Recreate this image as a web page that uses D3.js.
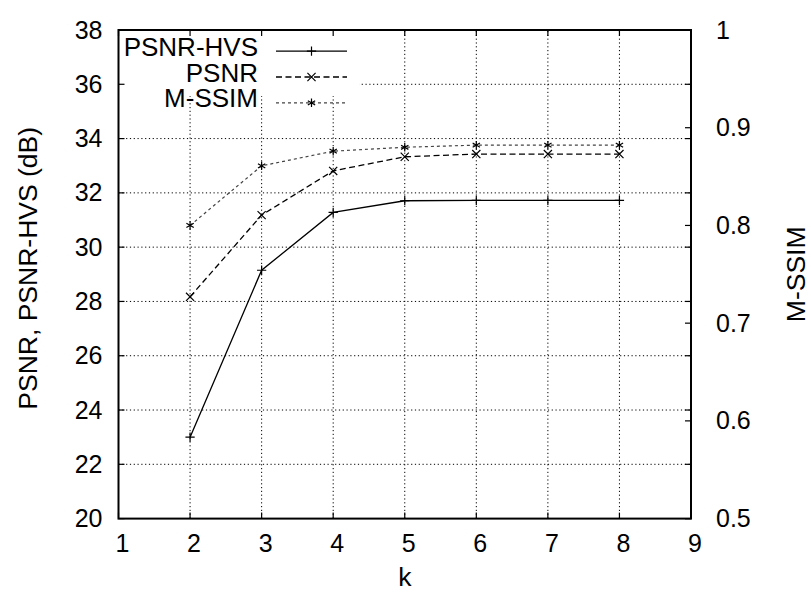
<!DOCTYPE html>
<html>
<head>
<meta charset="utf-8">
<script src="https://cdn.jsdelivr.net/npm/d3@7"></script>
<style>
  body { margin: 0; background: #fff; }
  svg { display: block; font-family: "Liberation Sans", Arial, sans-serif; }
  .tick-label { font-size: 25px; fill: #000; }
  .axis-title { font-size: 26.5px; fill: #000; }
  .key-label { font-size: 26px; fill: #000; }
</style>
</head>
<body>
<div id="chart"></div>
<script>
// k values and the three measured series
const kValues = [2, 3, 4, 5, 6, 7, 8];
const psnrHvs = [23.0, 29.15, 31.28, 31.71, 31.72, 31.72, 31.72];
const psnr = [28.17, 31.18, 32.81, 33.33, 33.43, 33.43, 33.43];
const mssim = [0.800, 0.861, 0.876, 0.880, 0.8822, 0.8822, 0.8822];

// tick labels
const xTicks = [1, 2, 3, 4, 5, 6, 7, 8, 9];
const yTicks = [20, 22, 24, 26, 28, 30, 32, 34, 36, 38];
const y2Ticks = [0.5, 0.6, 0.7, 0.8, 0.9, 1];

const series = [
  { name: "PSNR-HVS", values: psnrHvs, axis: "y", symbol: d3.symbolPlus, size: 30, dash: null, color: "#000", width: 1.3 },
  { name: "PSNR", values: psnr, axis: "y", symbol: d3.symbolTimes, size: 45, dash: "6,3.5", color: "#000", width: 1.3 },
  { name: "M-SSIM", values: mssim, axis: "y2", symbol: d3.symbolAsterisk, size: 50, dash: "3,3", color: "#444", width: 1.2 },
];

const width = 811;
const height = 592;
const margin = { top: 30, right: 120, bottom: 73.4, left: 118.5 };

const x = d3.scaleLinear().domain([1, 9]).range([margin.left, width - margin.right]);
const y = d3.scaleLinear().domain([20, 38]).range([height - margin.bottom, margin.top]);
const y2 = d3.scaleLinear().domain([0.5, 1]).range([height - margin.bottom, margin.top]);
const scaleFor = { y, y2 };

const svg = d3.select("#chart").append("svg")
  .attr("width", width)
  .attr("height", height)
  .attr("viewBox", [0, 0, width, height]);

const [x0, x1] = x.range();
const [yb, yt] = y.range();
const yMid = (yb + yt) / 2;

// grid (dotted), only interior ticks
const grid = svg.append("g")
  .attr("stroke", "#000")
  .attr("stroke-width", 1)
  .attr("stroke-dasharray", "1.2,2.6");

grid.selectAll("line.gx")
  .data(xTicks.slice(1, -1))
  .join("line")
  .attr("class", "gx")
  .attr("x1", (d) => x(d)).attr("x2", (d) => x(d))
  .attr("y1", yb).attr("y2", yt);

grid.selectAll("line.gy")
  .data(yTicks.slice(1, -1))
  .join("line")
  .attr("class", "gy")
  .attr("x1", x0).attr("x2", x1)
  .attr("y1", (d) => y(d)).attr("y2", (d) => y(d));

// the key is opaque and hides the grid behind it
svg.append("rect")
  .attr("x", x0 + 1)
  .attr("y", yt + 1)
  .attr("width", 240)
  .attr("height", 65)
  .attr("fill", "#fff");

// tick marks, pointing inward, mirrored
const ticks = svg.append("g").attr("stroke", "#000").attr("stroke-width", 1.2);
const tl = 6;

ticks.selectAll("line.xb")
  .data(xTicks)
  .join("line")
  .attr("x1", (d) => x(d)).attr("x2", (d) => x(d))
  .attr("y1", yb).attr("y2", yb - tl);

ticks.selectAll("line.xt")
  .data(xTicks)
  .join("line")
  .attr("x1", (d) => x(d)).attr("x2", (d) => x(d))
  .attr("y1", yt).attr("y2", yt + tl);

ticks.selectAll("line.yl")
  .data(yTicks)
  .join("line")
  .attr("x1", x0).attr("x2", x0 + tl)
  .attr("y1", (d) => y(d)).attr("y2", (d) => y(d));

ticks.selectAll("line.yr")
  .data(yTicks)
  .join("line")
  .attr("x1", x1).attr("x2", x1 - tl)
  .attr("y1", (d) => y(d)).attr("y2", (d) => y(d));

ticks.selectAll("line.y2")
  .data(y2Ticks)
  .join("line")
  .attr("x1", x1).attr("x2", x1 - tl)
  .attr("y1", (d) => y2(d)).attr("y2", (d) => y2(d));

// tick labels
svg.append("g").selectAll("text")
  .data(xTicks)
  .join("text")
  .attr("class", "tick-label")
  .attr("x", (d) => x(d) + 4)
  .attr("y", yb + 33)
  .attr("text-anchor", "middle")
  .text((d) => d);

svg.append("g").selectAll("text")
  .data(yTicks)
  .join("text")
  .attr("class", "tick-label")
  .attr("x", x0 - 16)
  .attr("y", (d) => y(d))
  .attr("dy", "0.34em")
  .attr("text-anchor", "end")
  .text((d) => d);

svg.append("g").selectAll("text")
  .data(y2Ticks)
  .join("text")
  .attr("class", "tick-label")
  .attr("x", x1 + 25)
  .attr("y", (d) => y2(d))
  .attr("dy", "0.34em")
  .attr("text-anchor", "start")
  .text((d) => d);

// axis titles
svg.append("text")
  .attr("class", "axis-title")
  .attr("x", (x0 + x1) / 2)
  .attr("y", height - 6)
  .attr("text-anchor", "middle")
  .text("k");

svg.append("text")
  .attr("class", "axis-title")
  .attr("transform", `translate(37, ${yMid - 6}) rotate(-90)`)
  .attr("text-anchor", "middle")
  .text("PSNR, PSNR-HVS (dB)");

svg.append("text")
  .attr("class", "axis-title")
  .attr("transform", `translate(805, ${yMid}) rotate(-90)`)
  .attr("text-anchor", "middle")
  .text("M-SSIM");

// series
series.forEach((s) => {
  const sy = scaleFor[s.axis];
  const pts = kValues.map((k, i) => [x(k), sy(s.values[i])]);

  svg.append("path")
    .datum(pts)
    .attr("fill", "none")
    .attr("stroke", s.color)
    .attr("stroke-width", s.width)
    .attr("stroke-dasharray", s.dash)
    .attr("d", d3.line());

  svg.append("g").selectAll("path")
    .data(pts)
    .join("path")
    .attr("transform", (d) => `translate(${d})`)
    .attr("fill", "none")
    .attr("stroke", "#000")
    .attr("stroke-width", 1.2)
    .attr("d", d3.symbol(s.symbol, s.size));
});

// key
const key = svg.append("g");
series.forEach((s, i) => {
  const base = 55.7 + i * 25.8;
  const ky = base - 4.5;
  key.append("text")
    .attr("class", "key-label")
    .attr("x", 258)
    .attr("y", base)
    .attr("text-anchor", "end")
    .text(s.name);
  key.append("line")
    .attr("x1", 276).attr("x2", 347)
    .attr("y1", ky).attr("y2", ky)
    .attr("stroke", s.color)
    .attr("stroke-width", s.width)
    .attr("stroke-dasharray", s.dash);
  key.append("path")
    .attr("transform", `translate(311.5, ${ky})`)
    .attr("fill", "none")
    .attr("stroke", "#000")
    .attr("stroke-width", 1.2)
    .attr("d", d3.symbol(s.symbol, s.size));
});

// frame
svg.append("rect")
  .attr("x", x0)
  .attr("y", yt)
  .attr("width", x1 - x0)
  .attr("height", yb - yt)
  .attr("fill", "none")
  .attr("stroke", "#000")
  .attr("stroke-width", 2);
</script>
</body>
</html>
